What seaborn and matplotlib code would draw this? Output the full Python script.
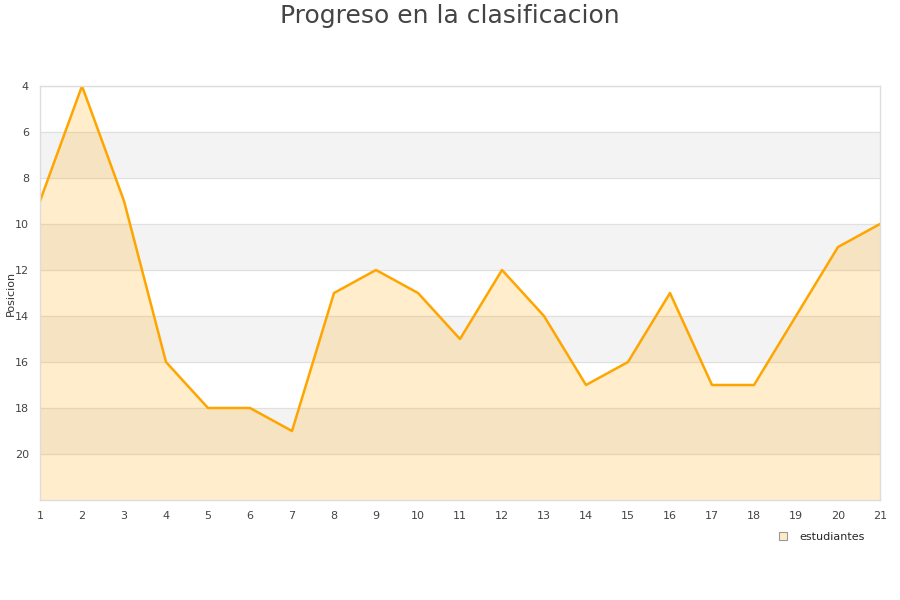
import pandas as pd
import numpy as np
import matplotlib.pyplot as plt
import seaborn as sns
from matplotlib.lines import Line2D

jornadas = list(range(1, 22))
posicion = [9, 4, 9, 16, 18, 18, 19, 13, 12, 13, 15, 12, 14, 17, 16, 13, 17, 17, 14, 11, 10]
y_ticks = [4, 6, 8, 10, 12, 14, 16, 18, 20]

df = pd.DataFrame({'Jornada': jornadas, 'Posicion': posicion})

sns.set_style('white')
plt.rcParams['font.family'] = ['DejaVu Sans']

fig = plt.figure(figsize=(9, 6), dpi=100)
ax = fig.add_axes([40 / 900, 100 / 600, 840 / 900, 414 / 600])

# bandas alternas
for lo in [6, 10, 14, 18]:
    ax.axhspan(lo, lo + 2, color='#f3f3f3', zorder=0)
for t in y_ticks:
    ax.axhline(t, color='#e0e0e0', lw=0.8, zorder=0.5)

ax.fill_between(df['Jornada'], df['Posicion'], 22, color='#ffa500', alpha=0.2, lw=0, zorder=1)
sns.lineplot(data=df, x='Jornada', y='Posicion', color='#ffa500', lw=1.8, ax=ax, zorder=2)

ax.set_xlim(1, 21)
ax.set_ylim(22, 4)
ax.set_xticks(jornadas)
ax.set_yticks(y_ticks)
ax.tick_params(labelsize=8, colors='#444444', length=0, pad=8)
ax.set_xlabel('')
ax.set_ylabel('Posicion', fontsize=8, color='#333333')
ax.yaxis.set_label_coords(-0.029, 0.5)
for s in ax.spines.values():
    s.set_color('#dddddd')
    s.set_linewidth(1)

fig.suptitle('Progreso en la clasificacion', fontsize=18, color='#444444', y=0.993)

handle = Line2D([], [], marker='s', linestyle='none', markersize=6,
                markerfacecolor='#ffebc6', markeredgecolor='#999999', markeredgewidth=0.8)
fig.legend([handle], ['estudiantes'], loc='center', bbox_to_anchor=(818 / 900, 1 - 537 / 600),
           frameon=False, fontsize=8, handletextpad=0.5)

fig.savefig('out.png', dpi=100)
